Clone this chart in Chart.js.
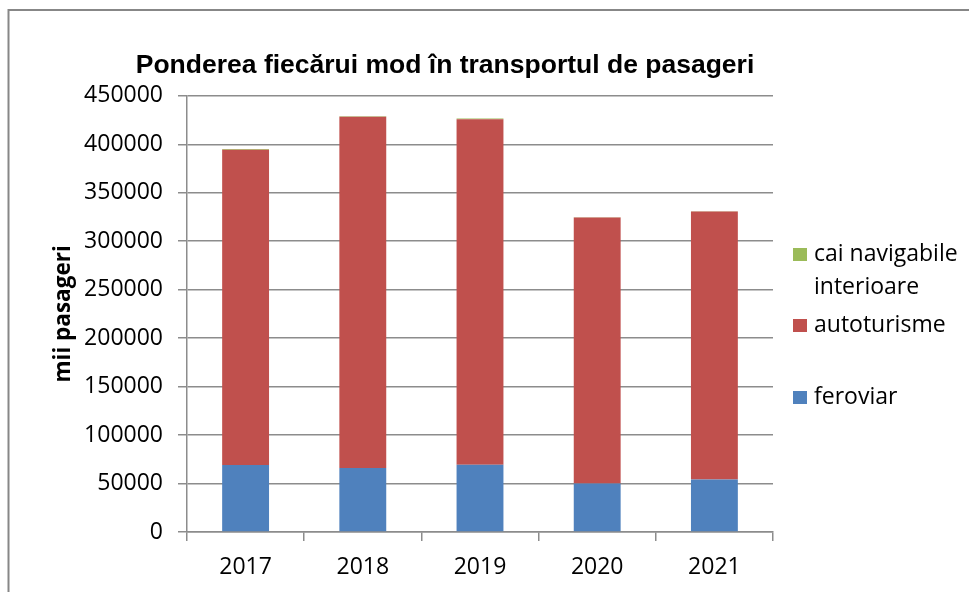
<!DOCTYPE html>
<html>
<head>
<meta charset="utf-8">
<script src="https://cdn.jsdelivr.net/npm/chart.js@4"></script>
<style>
  html, body { margin: 0; padding: 0; background: #fff; }
  #wrap { width: 969px; height: 592px; }
</style>
</head>
<body>
<div id="wrap"><canvas id="chart"></canvas></div>
<script>
const years = ['2017', '2018', '2019', '2020', '2021'];
const feroviar = [69000, 66000, 69300, 50000, 54200];
const autoturisme = [325300, 362300, 356500, 274400, 276400];
const caiNavigabile = [700, 700, 700, 300, 300];
const yTicks = [0, 50000, 100000, 150000, 200000, 250000, 300000, 350000, 400000, 450000];

const gridGrey = '#8c8c8c';
const tickFont = { family: 'Open Sans', size: 23 };

// grey frame round the chart (only top and left edges are visible)
const framePlugin = {
    id: 'frame',
    beforeDraw(chart) {
        const ctx = chart.ctx;
        ctx.save();
        ctx.strokeStyle = '#878787';
        ctx.lineWidth = 2;
        ctx.beginPath();
        ctx.moveTo(969, 10);
        ctx.lineTo(8.5, 10);
        ctx.lineTo(8.5, 592);
        ctx.stroke();
        ctx.restore();
    }
};

// the title sits a bit left of the canvas centre
const titlePlace = {
    id: 'titlePlace',
    afterLayout(chart) {
        const t = chart.titleBlock;
        t.left = 0;
        t.right = 890;
        t.width = 890;
    }
};

// legend on the right, top entry wraps on two lines
const sideLegend = {
    id: 'sideLegend',
    afterDraw(chart) {
        const ctx = chart.ctx;
        const x = chart.chartArea.right + 20;
        const items = [
            { ds: 2, lines: ['cai navigabile', 'interioare'], y: 261 },
            { ds: 1, lines: ['autoturisme'], y: 332 },
            { ds: 0, lines: ['feroviar'], y: 404 }
        ];
        ctx.save();
        ctx.font = '23px "Open Sans"';
        ctx.textBaseline = 'alphabetic';
        items.forEach(it => {
            ctx.fillStyle = chart.data.datasets[it.ds].backgroundColor;
            ctx.fillRect(x, it.y - 13, 14, 13);
            ctx.fillStyle = '#000';
            it.lines.forEach((line, i) => {
                ctx.fillText(line, x + 21, it.y + i * 33);
            });
        });
        ctx.restore();
    }
};

new Chart(document.getElementById('chart'), {
    type: 'bar',
    data: {
        labels: years,
        datasets: [
            { label: 'feroviar', data: feroviar, backgroundColor: '#4f81bd' },
            { label: 'autoturisme', data: autoturisme, backgroundColor: '#c0504d' },
            { label: 'cai navigabile interioare', data: caiNavigabile, backgroundColor: '#9bbb59' }
        ]
    },
    options: {
        responsive: true,
        maintainAspectRatio: false,
        animation: false,
        layout: { padding: { left: 0, right: 196, top: 0, bottom: 0 } },
        datasets: { bar: { barPercentage: 0.4, categoryPercentage: 1 } },
        plugins: {
            legend: { display: false },
            tooltip: { enabled: false },
            title: {
                display: true,
                text: 'Ponderea fiecărui mod în transportul de pasageri',
                color: '#000',
                font: { family: 'Liberation Sans', size: 26.5, weight: 'bold' },
                padding: { top: 50, bottom: 14 }
            }
        },
        scales: {
            x: {
                stacked: true,
                grid: { drawOnChartArea: false, drawTicks: true, tickLength: 9, color: gridGrey, lineWidth: 1.5, offset: true },
                border: { color: gridGrey, width: 1.5 },
                ticks: { color: '#000', font: tickFont, padding: 13, maxRotation: 0 },
                afterFit(scale) { scale.height = 60; }
            },
            y: {
                stacked: true,
                min: 0,
                max: 450000,
                afterBuildTicks(scale) { scale.ticks = yTicks.map(v => ({ value: v })); },
                grid: { color: gridGrey, lineWidth: 1.5, tickLength: 9 },
                border: { color: gridGrey, width: 1.5 },
                ticks: { color: '#000', font: tickFont, padding: 15, callback: v => String(v) },
                title: {
                    display: true,
                    text: 'mii pasageri',
                    color: '#000',
                    font: { family: 'Open Sans', size: 22.5, weight: 'bold' },
                    padding: { top: 50, bottom: 0 }
                },
                afterFit(scale) { scale.width = 187; }
            }
        }
    },
    plugins: [framePlugin, titlePlace, sideLegend]
});
</script>
</body>
</html>
